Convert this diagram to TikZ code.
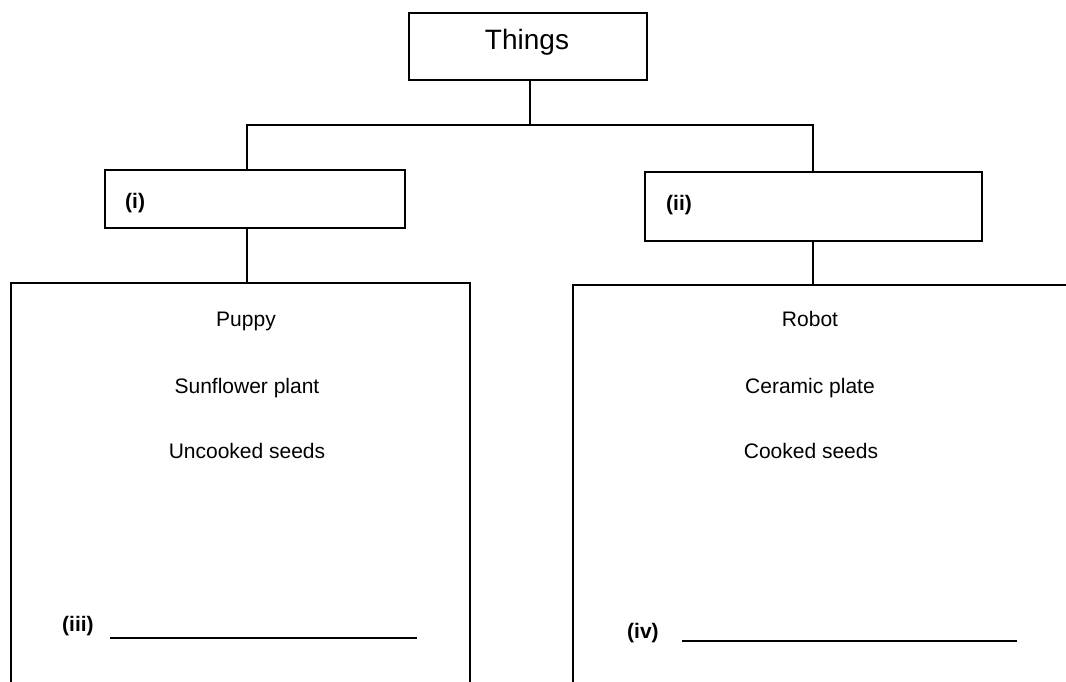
\documentclass[tikz,border=0pt]{standalone}
\usepackage{fontspec}
\setmainfont{Liberation Sans}
\begin{document}
\begin{tikzpicture}[x=1pt,y=-1pt,
  line/.style={line width=1.6pt},
  boxs/.style={draw,line width=1.6pt,rectangle,inner sep=0pt},
  txt/.style={font=\fontsize{21}{25}\selectfont,inner sep=0pt,anchor=base},
  lab/.style={font=\bfseries\fontsize{21}{25}\selectfont,inner sep=0pt,anchor=base west}]
\useasboundingbox (0,0) rectangle (1066,682);
% top box
\node[boxs,minimum width=238pt,minimum height=67pt] (things) at (528,46.5) {};
\node[font=\fontsize{28}{32}\selectfont,inner sep=0pt,anchor=base] (thingst) at (527,50) {Things};
% category boxes
\node[boxs,minimum width=300pt,minimum height=58pt] (boxi) at (255,199) {};
\node[lab] (labi) at (125,208) {(i)};
\node[boxs,minimum width=337pt,minimum height=69pt] (boxii) at (813.5,206.5) {};
\node[lab] (labii) at (666,211) {(ii)};
% junction coordinates
\coordinate (j) at (530,125);
\coordinate (li) at (247,125);
\coordinate (ri) at (813,125);
\coordinate (ltop) at (247,283);
\coordinate (rtop) at (813,285);
% connectors
\draw[line] (things.south -| j) -- (j);
\draw[line] (li |- boxi.north) -- (li) -- (ri) -- (ri |- boxii.north);
\draw[line] (li |- boxi.south) -- (ltop);
\draw[line] (ri |- boxii.south) -- (rtop);
% big open boxes
\coordinate (lbl) at (11,690);
\coordinate (lbr) at (470,690);
\coordinate (rbl) at (573,690);
\coordinate (rbr) at (1070,285);
\draw[line] (lbl) -- (11,283) -- (ltop) -- (470,283) -- (lbr);
\draw[line] (rbl) -- (573,285) -- (rtop) -- (rbr);
% left list
\node[txt] (puppy) at (246,326) {Puppy};
\node[txt] (sun) at (247,393) {Sunflower plant};
\node[txt] (unc) at (247,458) {Uncooked seeds};
\node[lab] (iii) at (62,631) {(iii)};
\coordinate (iiia) at (110,638);
\coordinate (iiib) at (417,638);
\draw[line,line width=1.3pt] (iiia) -- (iiib);
% right list
\node[txt] (robot) at (810,326) {Robot};
\node[txt] (cer) at (810,393) {Ceramic plate};
\node[txt] (coo) at (811,458) {Cooked seeds};
\node[lab] (iv) at (627,638) {(iv)};
\coordinate (iva) at (682,641);
\coordinate (ivb) at (1017,641);
\draw[line,line width=1.3pt] (iva) -- (ivb);
\end{tikzpicture}
\end{document}
